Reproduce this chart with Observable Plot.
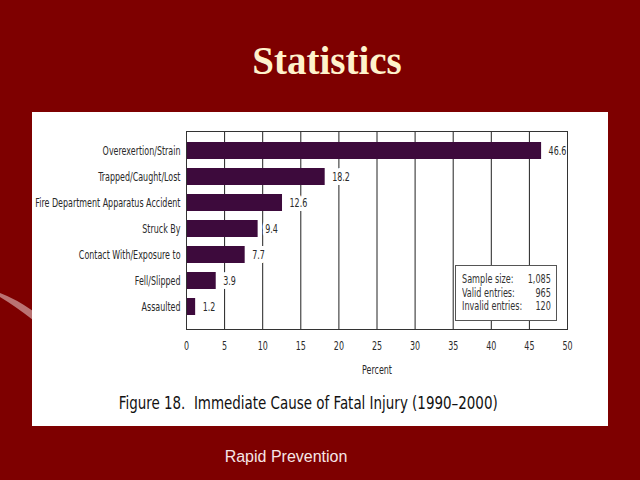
<!DOCTYPE html>
<html>
<head>
<meta charset="utf-8">
<script src="https://cdn.jsdelivr.net/npm/d3@7"></script>
<script src="https://cdn.jsdelivr.net/npm/@observablehq/plot@0.6"></script>
<style>
  html, body { margin: 0; padding: 0; width: 640px; height: 480px; overflow: hidden; background: #7e0000; }
  #swoosh { position: absolute; left: 0; top: 0; }
  #title { position: absolute; left: 7px; width: 640px; top: 41px; line-height: 39px; text-align: center; font-family: "Liberation Serif", "DejaVu Serif", serif; font-weight: bold; font-size: 39px; color: #fff2cc; }
  #panel { position: absolute; left: 32px; top: 112px; width: 576px; height: 314px; background: #ffffff; }
  #panel svg { position: absolute; left: 0; top: 0; }
  #caption { position: absolute; left: 0; width: 553px; top: 280px; text-align: center; font-family: "DejaVu Sans Condensed", sans-serif; font-size: 18px; line-height: 22px; color: #111; }
  #caption span { display: inline-block; transform: scaleX(0.83); transform-origin: center; white-space: nowrap; }
  #note { position: absolute; left: 423px; top: 153px; width: 102px; height: 56px; border: 1px solid #555; background: #fff; box-sizing: border-box; overflow: hidden; }
  #noteInner { position: absolute; left: 6px; top: 1px; width: 118.5px; transform: scaleX(0.75); transform-origin: left top; font-family: "DejaVu Sans Condensed", sans-serif; font-size: 12px; color: #333; line-height: 13.5px; padding-top: 6px; }
  #noteInner .row { display: flex; justify-content: space-between; }
  #footer { position: absolute; left: 186px; width: 200px; top: 448px; text-align: center; font-family: "Liberation Sans", Arial, sans-serif; font-size: 16px; color: #f6e6e6; }
</style>
</head>
<body>
<svg id="swoosh" width="40" height="480"><path d="M0,293 Q16,299 33,311 L33,320 Q15,306 0,297 Z" fill="#cf9a9a" fill-opacity="0.75"></path></svg>
<div id="title">Statistics</div>
<div id="panel"></div>
<div id="footer">Rapid Prevention</div>
<script>
const causes = ["Overexertion/Strain", "Trapped/Caught/Lost", "Fire Department Apparatus Accident", "Struck By", "Contact With/Exposure to", "Fell/Slipped", "Assaulted"];
const percents = [46.6, 18.2, 12.6, 9.4, 7.7, 3.9, 1.2];
const xTicks = [0, 5, 10, 15, 20, 25, 30, 35, 40, 45, 50];
const noteLabels = ["Sample size:", "Valid entries:", "Invalid entries:"];
const noteValues = ["1,085", "965", "120"];
const captionText = "Figure 18.\u00a0 Immediate Cause of Fatal Injury (1990\u20132000)";

const data = causes.map((c, i) => ({cause: c, value: percents[i]}));

const chart = Plot.plot({
  width: 576,
  height: 314,
  marginLeft: 154,
  marginRight: 41,
  marginTop: 19,
  marginBottom: 97,
  style: {fontFamily: "'DejaVu Sans Condensed', sans-serif", fontSize: "11.5px", color: "#2a2a2a", background: "transparent"},
  x: {domain: [0, 50]},
  y: {domain: causes, paddingInner: 0.34, paddingOuter: 0.42, align: 0.45},
  marks: [
    Plot.gridX(xTicks, {stroke: "#222", strokeOpacity: 1, strokeWidth: 1}),
    Plot.barX(data, {x: "value", y: "cause", fill: "#3d0a3c"}),
    Plot.text(data, {x: "value", y: "cause", text: d => d.value.toFixed(1), dx: 7, textAnchor: "start", fill: "#2a2a2a", stroke: "white", strokeWidth: 8, strokeLinejoin: "round"}),
    Plot.frame({stroke: "#333", strokeWidth: 1}),
    Plot.axisY({tickSize: 0, tickPadding: 6, label: null}),
    Plot.axisX({ticks: xTicks, tickSize: 0, tickPadding: 12, label: "Percent", labelAnchor: "center", labelArrow: "none", labelOffset: 44})
  ]
});

const panel = document.getElementById("panel");
panel.appendChild(chart);

// condense the chart's text horizontally, like the narrow face of the original
chart.querySelectorAll("text").forEach(t => {
  const len = t.getComputedTextLength();
  if (len > 0) {
    t.setAttribute("textLength", (len * 0.77).toFixed(2));
    t.setAttribute("lengthAdjust", "spacingAndGlyphs");
  }
});

const note = document.createElement("div");
note.id = "note";
const inner = document.createElement("div");
inner.id = "noteInner";
noteLabels.forEach((l, i) => {
  const row = document.createElement("div");
  row.className = "row";
  const a = document.createElement("span"); a.textContent = l;
  const b = document.createElement("span"); b.textContent = noteValues[i];
  row.appendChild(a); row.appendChild(b);
  inner.appendChild(row);
});
note.appendChild(inner);
panel.appendChild(note);

const cap = document.createElement("div");
cap.id = "caption";
const capSpan = document.createElement("span");
capSpan.textContent = captionText;
cap.appendChild(capSpan);
panel.appendChild(cap);
</script>
</body>
</html>
